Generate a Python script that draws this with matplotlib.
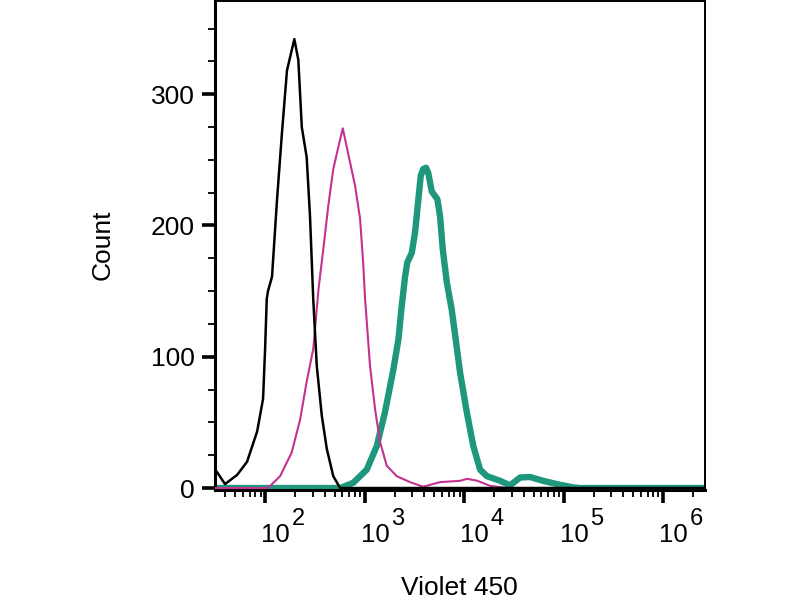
import numpy as np
import matplotlib
matplotlib.use("Agg")
import matplotlib.pyplot as plt
from matplotlib.ticker import FixedLocator, NullFormatter

plt.rcParams['font.family'] = ['Liberation Sans', 'DejaVu Sans']

# ---- data (Violet 450 intensity vs. count) ----
black_x = [31.4, 33, 39.6, 52.4, 65.9, 83.2, 95.5, 100, 104, 107, 117.5, 132, 148, 166,
           197, 216, 234, 262, 283, 305, 331, 372, 417, 485, 568, 2.64e6]
black_y = [14, 12, 3, 10, 20, 43, 68, 105, 144, 150, 161, 220, 271, 318,
           342, 326, 275, 252, 207, 144, 93, 55, 30, 9, 0, 0]

magenta_x = [31.4, 107, 141.6, 185, 225, 262, 305, 344, 385, 432, 485, 546, 604, 662,
             715, 804, 902, 973, 1012, 1135, 1276, 1432, 1671, 2109, 2864, 3873,
             5741, 9120, 10715, 13490, 18197, 26915, 2.64e6]
magenta_y = [0, 0, 9, 27, 52, 81, 106, 151, 182, 215, 243, 260, 274, 260,
             248, 230, 205, 169, 144, 93, 60, 35, 17, 9, 4.5, 1,
             4.5, 5.5, 7, 5.6, 1.7, 0, 0]

teal_x = [31.4, 568, 771, 1052, 1327, 1607, 1945, 2188, 2366, 2553, 2692, 2979, 3221,
          3475, 3673, 3890, 4150, 4365, 4550, 4732, 5395, 5741, 6109, 6699, 7516,
          8318, 9120, 10641, 12388, 14488, 17022, 23014, 28973, 36559, 46026,
          62230, 85507, 124451, 146555, 2.64e6]
teal_y = [0, 0, 4, 14, 32, 58, 90, 113, 139, 161, 172, 179, 195,
          220, 238, 243, 244, 240, 233, 226, 220, 207, 182, 157, 136,
          111, 88, 58, 32, 14, 9, 5.5, 2, 8, 8.4,
          5.5, 3, 0.5, 0, 0]

y_ticks = [0, 100, 200, 300]
y_minor = [25, 50, 75, 125, 150, 175, 225, 250, 275, 325, 350]
x_ticks = [1e2, 1e3, 1e4, 1e5, 1e6]
x_exponents = ['2', '3', '4', '5', '6']

fig = plt.figure(figsize=(8, 6), dpi=100)
ax = fig.add_axes([215/800, 1 - 490/600, 490/800, 489/600])

ax.plot(teal_x, teal_y, color='#1f977d', lw=4.6, solid_joinstyle='round', zorder=2)
ax.plot(magenta_x, magenta_y, color='#c2338f', lw=1.5, zorder=3)
ax.plot(black_x, black_y, color='black', lw=1.8, zorder=4)

ax.set_xscale('log')
ax.set_xlim(31.4, 2.64e6)
ax.set_ylim(-1.5, 371)

ax.yaxis.set_major_locator(FixedLocator(y_ticks))
ax.yaxis.set_minor_locator(FixedLocator(y_minor))
ax.xaxis.set_major_locator(FixedLocator(x_ticks))
ax.xaxis.set_major_formatter(NullFormatter())
minor_x = [m * 10.0**e for e in range(1, 7) for m in range(2, 10)]
minor_x = [v for v in minor_x if 31.4 <= v <= 2.64e6]
ax.xaxis.set_minor_locator(FixedLocator(minor_x))
ax.xaxis.set_minor_formatter(NullFormatter())

ax.tick_params(axis='both', which='major', direction='out', length=9.5, width=2.6,
               labelsize=19, color='black', pad=5)
ax.tick_params(axis='both', which='minor', direction='out', length=5, width=1.3)

for sp in ['left', 'bottom']:
    ax.spines[sp].set_linewidth(2.2)
for sp in ['top', 'right']:
    ax.spines[sp].set_linewidth(1.4)

# decade labels "10" with a large superscript exponent, left-aligned at the tick
for xv, ex in zip(x_ticks, x_exponents):
    ax.annotate('10', xy=(xv, 0), xycoords=('data', 'axes fraction'),
                xytext=(-2.7, -37.2), textcoords='offset points',
                ha='left', va='baseline', fontsize=18.5, annotation_clip=False)
    ax.annotate(ex, xy=(xv, 0), xycoords=('data', 'axes fraction'),
                xytext=(19.0, -25.2), textcoords='offset points',
                ha='left', va='baseline', fontsize=17, annotation_clip=False)

fig.text(103/800, 1 - 245/600, 'Count', rotation=90, ha='center', va='center', fontsize=19)
fig.text(459/800, 1 - 588/600, 'Violet 450', ha='center', va='center', fontsize=19)

fig.savefig('out.png', dpi=100)
